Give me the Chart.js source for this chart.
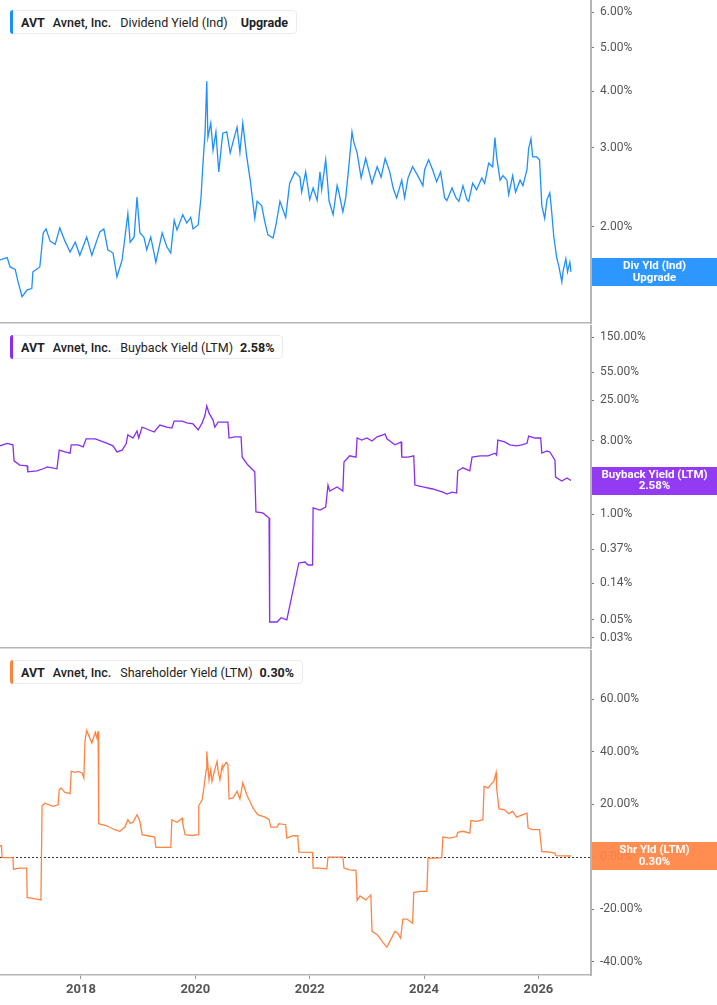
<!DOCTYPE html>
<html>
<head>
<meta charset="utf-8">
<script src="https://cdn.jsdelivr.net/npm/chart.js@4.4.1/dist/chart.umd.min.js"></script>
<style>
html, body { margin: 0; padding: 0; background: #fff; }
body { width: 717px; height: 1005px; position: relative; overflow: hidden; font-family: Roboto, "Noto Sans", sans-serif; }
.panel { position: absolute; left: 0; width: 717px; }
.panel canvas { position: absolute; left: 0; top: 0; }
.legend { position: absolute; left: 10px; top: 10px; height: 22px; border: 1px solid #ebebeb; border-radius: 4px; background: #fff;
  display: flex; align-items: center; padding: 0 8px 0 10px; font-size: 12.5px; color: #222; white-space: nowrap; z-index: 2; }
.legend .bar { position: absolute; left: -1px; top: -1px; bottom: -1px; width: 3px; border-radius: 3px 0 0 3px; }
.legend .t { font-weight: 700; margin-right: 8px; }
.legend .co { font-weight: 500; margin-right: 9px; }
.legend .s { font-weight: 400; margin-right: 7px; }
.legend .v { font-weight: 700; }
</style>
</head>
<body>

<div class="panel" style="top:0;height:324px">
  <canvas id="divChart" width="717" height="324"></canvas>
  <div class="legend"><span class="bar" style="background:#1e8fff"></span><span class="t">AVT</span><span class="co">Avnet, Inc.</span><span class="s" style="margin-right:13px">Dividend Yield (Ind)</span><span class="v">Upgrade</span></div>
</div>
<div class="panel" style="top:325px;height:324px">
  <canvas id="buybackChart" width="717" height="324"></canvas>
  <div class="legend"><span class="bar" style="background:#8a2cf2"></span><span class="t">AVT</span><span class="co">Avnet, Inc.</span><span class="s">Buyback Yield (LTM)</span><span class="v">2.58%</span></div>
</div>
<div class="panel" style="top:650px;height:355px">
  <canvas id="shrChart" width="717" height="355"></canvas>
  <div class="legend"><span class="bar" style="background:#ff8444"></span><span class="t">AVT</span><span class="co">Avnet, Inc.</span><span class="s">Shareholder Yield (LTM)</span><span class="v">0.30%</span></div>
</div>

<script>
// x values are decimal years
const divYears = [2016.58, 2016.71, 2016.76, 2016.85, 2016.90, 2016.97, 2017.06, 2017.14, 2017.16, 2017.28, 2017.34, 2017.39, 2017.46, 2017.55, 2017.63, 2017.72, 2017.81, 2017.90, 2017.98,
  2018.10, 2018.19, 2018.28, 2018.33, 2018.40, 2018.47, 2018.56, 2018.63, 2018.72, 2018.77, 2018.82, 2018.86, 2018.93, 2018.98,
  2019.03, 2019.10, 2019.15, 2019.22, 2019.31, 2019.42, 2019.50, 2019.57, 2019.63, 2019.68, 2019.78, 2019.85, 2019.92, 2019.96,
  2020.05, 2020.10, 2020.13, 2020.17, 2020.20, 2020.22, 2020.27, 2020.31, 2020.36, 2020.41, 2020.48, 2020.55, 2020.61, 2020.66, 2020.73, 2020.78, 2020.83, 2020.90, 2020.96,
  2021.04, 2021.08, 2021.16, 2021.22, 2021.27, 2021.36, 2021.41, 2021.48, 2021.58, 2021.65, 2021.74, 2021.83, 2021.86, 2021.93,
  2022.00, 2022.06, 2022.13, 2022.18, 2022.21, 2022.28, 2022.34, 2022.41, 2022.48, 2022.51, 2022.58, 2022.63, 2022.69, 2022.74, 2022.77, 2022.83, 2022.90, 2022.98,
  2023.04, 2023.09, 2023.18, 2023.25, 2023.32, 2023.40, 2023.46, 2023.52, 2023.61, 2023.66, 2023.72, 2023.80, 2023.89, 2023.98,
  2024.01, 2024.08, 2024.15, 2024.22, 2024.29, 2024.36, 2024.40, 2024.49, 2024.56, 2024.61, 2024.68, 2024.75, 2024.78, 2024.85, 2024.92,
  2025.01, 2025.06, 2025.13, 2025.20, 2025.24, 2025.27, 2025.33, 2025.38, 2025.45, 2025.48, 2025.55, 2025.60, 2025.68, 2025.73, 2025.80, 2025.83, 2025.87, 2025.90, 2025.97,
  2026.02, 2026.06, 2026.11, 2026.15, 2026.20, 2026.23, 2026.27, 2026.32, 2026.36, 2026.41, 2026.43, 2026.48, 2026.51, 2026.55, 2026.57];
const divValues = [1.69, 1.71, 1.63, 1.61, 1.51, 1.40, 1.45, 1.46, 1.59, 1.63, 1.94, 1.98, 1.86, 1.83, 1.99, 1.86, 1.76, 1.85, 1.73,
  1.90, 1.73, 1.87, 1.95, 1.98, 1.78, 1.75, 1.55, 1.69, 1.90, 2.14, 1.85, 1.90, 2.33,
  1.94, 1.90, 1.78, 1.90, 1.67, 1.94, 1.81, 1.75, 2.07, 1.97, 2.13, 2.04, 2.10, 1.98,
  2.02, 2.33, 2.72, 3.23, 4.21, 3.16, 3.40, 2.96, 3.25, 2.65, 3.23, 3.25, 2.92, 3.09, 3.33, 2.93, 3.40, 2.86, 2.54,
  2.09, 2.28, 2.23, 2.04, 1.92, 1.89, 2.02, 2.28, 2.10, 2.50, 2.65, 2.58, 2.39, 2.65,
  2.30, 2.44, 2.29, 2.65, 2.42, 2.82, 2.28, 2.13, 2.47, 2.39, 2.16, 2.32, 2.77, 3.25, 3.09, 2.92, 2.57, 2.84,
  2.65, 2.50, 2.72, 2.58, 2.84, 2.65, 2.44, 2.32, 2.54, 2.32, 2.57, 2.72, 2.60, 2.47,
  2.68, 2.82, 2.68, 2.52, 2.65, 2.32, 2.29, 2.44, 2.32, 2.28, 2.47, 2.30, 2.28, 2.50, 2.42,
  2.57, 2.50, 2.77, 2.72, 3.16, 2.86, 2.54, 2.60, 2.54, 2.36, 2.60, 2.39, 2.54, 2.47, 2.68, 2.99, 3.14, 2.86, 2.86,
  2.82, 2.23, 2.09, 2.30, 2.38, 2.18, 1.90, 1.71, 1.63, 1.51, 1.59, 1.70, 1.59, 1.67, 1.59];

const buybackYears = [2016.58, 2016.71, 2016.81, 2016.83, 2016.93, 2017.06, 2017.07, 2017.23, 2017.34, 2017.41, 2017.58, 2017.62, 2017.72, 2017.81, 2017.83, 2017.95,
  2018.04, 2018.09, 2018.25, 2018.46, 2018.56, 2018.63, 2018.72, 2018.79, 2018.82, 2018.91, 2018.98,
  2019.01, 2019.07, 2019.15, 2019.28, 2019.38, 2019.50, 2019.59, 2019.63, 2019.77, 2019.85, 2019.96,
  2020.05, 2020.12, 2020.17, 2020.20, 2020.24, 2020.31, 2020.34, 2020.40, 2020.47, 2020.57, 2020.59, 2020.69, 2020.80, 2020.82, 2020.92,
  2021.04, 2021.06, 2021.18, 2021.29, 2021.30, 2021.43, 2021.50, 2021.60, 2021.81, 2021.92, 2021.97,
  2022.05, 2022.06, 2022.18, 2022.28, 2022.32, 2022.35, 2022.48, 2022.58, 2022.60, 2022.70, 2022.81, 2022.83, 2022.91,
  2023.00, 2023.09, 2023.18, 2023.32, 2023.35, 2023.49, 2023.60, 2023.61, 2023.72, 2023.82, 2023.84, 2023.98,
  2024.15, 2024.33, 2024.40, 2024.49, 2024.57, 2024.59, 2024.68, 2024.80, 2024.84, 2024.98,
  2025.12, 2025.24, 2025.27, 2025.29, 2025.41, 2025.50, 2025.62, 2025.71, 2025.80, 2025.83, 2025.94,
  2026.04, 2026.06, 2026.15, 2026.20, 2026.29, 2026.30, 2026.41, 2026.50, 2026.57];
const buybackValues = [6.9, 7.4, 7.1, 4.5, 4.0, 3.9, 3.3, 3.4, 3.6, 3.8, 3.6, 6.1, 5.8, 5.6, 7.1, 7.1,
  6.7, 8.4, 8.4, 7.4, 6.9, 5.8, 6.1, 7.3, 9.4, 8.6, 10.5,
  8.6, 11.7, 11.1, 10.2, 12.4, 11.7, 11.4, 13.9, 13.9, 13.2, 12.8,
  10.8, 13.2, 16.5, 21.3, 17.4, 14.3, 11.7, 13.5, 13.5, 13.5, 8.6, 8.9, 8.9, 5.0, 4.0,
  3.3, 1.06, 1.03, 0.89, 0.047, 0.047, 0.053, 0.050, 0.25, 0.257, 0.236,
  0.236, 1.19, 1.12, 1.22, 2.27, 1.92, 2.15, 1.92, 4.35, 5.2, 5.0, 8.6, 8.1,
  8.6, 7.9, 8.9, 9.6, 8.4, 7.1, 7.7, 5.0, 5.0, 5.2, 2.27, 2.15,
  2.03, 1.86, 1.76, 1.86, 1.81, 3.4, 3.7, 3.4, 5.0, 5.2,
  5.2, 5.6, 5.3, 8.1, 7.7, 7.1, 6.9, 7.1, 7.4, 9.1, 8.6,
  8.6, 5.6, 5.95, 5.8, 4.6, 2.85, 2.55, 2.77, 2.58];

const shrYears = [2016.58, 2016.61, 2016.62, 2016.81, 2016.82, 2016.93, 2017.05, 2017.06, 2017.20, 2017.30, 2017.32, 2017.37, 2017.51, 2017.60, 2017.62, 2017.65, 2017.72, 2017.81, 2017.83, 2017.90, 2017.95,
  2018.02, 2018.05, 2018.07, 2018.10, 2018.19, 2018.25, 2018.28, 2018.30, 2018.31, 2018.45, 2018.59, 2018.68, 2018.77, 2018.82, 2018.86, 2018.91, 2018.98,
  2019.03, 2019.07, 2019.17, 2019.29, 2019.31, 2019.43, 2019.57, 2019.59, 2019.68, 2019.77, 2019.78, 2019.82, 2019.94,
  2020.05, 2020.06, 2020.12, 2020.15, 2020.19, 2020.20, 2020.24, 2020.27, 2020.29, 2020.34, 2020.38, 2020.40, 2020.43, 2020.47, 2020.48, 2020.54, 2020.57, 2020.59, 2020.66, 2020.73, 2020.78, 2020.83, 2020.90,
  2021.01, 2021.09, 2021.22, 2021.29, 2021.32, 2021.43, 2021.46, 2021.58, 2021.60, 2021.71, 2021.79, 2021.81,
  2022.05, 2022.06, 2022.18, 2022.30, 2022.32, 2022.58, 2022.60, 2022.70, 2022.81, 2022.83, 2022.88, 2022.98,
  2023.07, 2023.09, 2023.18, 2023.23, 2023.28, 2023.35, 2023.40, 2023.49, 2023.54, 2023.59, 2023.63, 2023.70, 2023.80, 2023.82, 2023.93,
  2024.05, 2024.07, 2024.22, 2024.31, 2024.33, 2024.45, 2024.57, 2024.59, 2024.68, 2024.80, 2024.82, 2024.92,
  2025.03, 2025.05, 2025.12, 2025.19, 2025.22, 2025.26, 2025.27, 2025.31, 2025.41, 2025.48, 2025.55, 2025.62, 2025.73, 2025.80, 2025.82, 2025.90,
  2026.02, 2026.06, 2026.20, 2026.29, 2026.30, 2026.57];
const shrValues = [4.2, 4.2, -0.3, -0.3, -4.7, -4.3, -4.3, -15.5, -16.0, -16.4, 19.4, 20.4, 19.2, 19.8, 25.5, 26.2, 24.5, 24.0, 32.5, 32.1, 32.5,
  31.9, 30.0, 43.9, 48.1, 43.3, 47.4, 45.2, 47.8, 12.6, 11.8, 10.3, 9.7, 11.3, 14.1, 12.8, 13.1, 16.0,
  13.5, 8.4, 8.0, 7.5, 3.6, 3.6, 3.6, 14.1, 13.1, 14.7, 12.8, 8.4, 8.1,
  8.4, 19.4, 21.7, 26.2, 33.1, 40.1, 29.3, 33.1, 28.7, 33.1, 36.3, 32.5, 29.3, 34.7, 33.8, 35.9, 35.1, 22.0, 22.4, 24.9, 22.0, 28.1, 23.6,
  18.5, 16.0, 15.1, 14.1, 11.3, 11.3, 12.6, 12.2, 7.1, 8.0, 8.0, 1.8,
  1.7, -4.3, -4.3, -4.7, -0.1, -0.1, -4.3, -5.0, -5.2, -16.6, -14.9, -16.4,
  -14.5, -28.4, -29.7, -31.0, -32.6, -34.4, -32.3, -28.4, -29.1, -31.0, -23.7, -23.7, -25.3, -13.6, -13.2,
  -13.2, -0.5, -0.5, -0.3, 7.5, 7.1, 7.7, 9.3, 9.7, 9.0, 13.8, 13.5,
  14.1, 26.8, 26.2, 28.1, 28.7, 32.1, 26.2, 18.2, 17.9, 16.4, 17.3, 15.1, 16.0, 16.6, 10.9, 10.3,
  10.3, 2.0, 1.8, 1.4, 0.4, 0.3];

const yearTicks = [2018, 2020, 2022, 2024, 2026];
const divTicks = [2, 3, 4, 5, 6];
const buybackTicks = [0.03, 0.05, 0.14, 0.37, 1, 8, 25, 55, 150];
const shrTicks = [-40, -20, 0, 20, 40, 60];

const AXIS_GRAY = '#b5b5b5';

const tagPlugin = {
  id: 'lastTag',
  afterDraw(chart, args, opts) {
    if (!opts.lines) return;
    const {ctx, chartArea, scales} = chart;
    const pts = chart.data.datasets[0].data;
    const y = scales.y.getPixelForValue(pts[pts.length - 1].y);
    const x0 = chartArea.right + 1;
    const w = chart.width - x0;
    ctx.save();
    ctx.globalAlpha = 0.93;
    ctx.fillStyle = opts.color;
    ctx.fillRect(x0, Math.round(y - 14), w, 28);
    ctx.globalAlpha = 1;
    ctx.fillStyle = '#fff';
    ctx.font = 'bold 11.5px Roboto, "Noto Sans", sans-serif';
    ctx.textAlign = 'center';
    ctx.textBaseline = 'middle';
    ctx.fillText(opts.lines[0], x0 + w / 2, y - 5.5);
    ctx.fillText(opts.lines[1], x0 + w / 2, y + 6);
    ctx.restore();
  }
};

const zeroPlugin = {
  id: 'zeroLine',
  beforeDatasetsDraw(chart, args, opts) {
    if (!opts.show) return;
    const {ctx, chartArea, scales} = chart;
    const y = Math.round(scales.y.getPixelForValue(0)) + 0.5;
    ctx.save();
    ctx.strokeStyle = '#333';
    ctx.lineWidth = 1;
    ctx.setLineDash([2, 2]);
    ctx.beginPath();
    ctx.moveTo(chartArea.left, y);
    ctx.lineTo(chartArea.right, y);
    ctx.stroke();
    ctx.restore();
  }
};

function makeChart(id, years, values, color, yOpts, tagLines, showXLabels, zero) {
  return new Chart(document.getElementById(id), {
    type: 'line',
    data: {
      datasets: [{
        data: years.map((x, i) => ({x: x, y: values[i]})),
        borderColor: color,
        borderWidth: 1.3,
        pointRadius: 0,
        tension: 0,
        fill: false
      }]
    },
    options: {
      responsive: false,
      animation: false,
      events: [],
      layout: {padding: {top: 0, left: 0, right: 0, bottom: showXLabels ? 0 : 1}},
      plugins: {
        legend: {display: false},
        tooltip: {enabled: false},
        lastTag: {lines: tagLines, color: color},
        zeroLine: {show: zero}
      },
      scales: {
        x: {
          type: 'linear',
          min: 2016.584,
          max: 2026.92,
          afterBuildTicks: s => { s.ticks = yearTicks.map(v => ({value: v})); },
          afterFit: s => {
            s.height = showXLabels ? 30 : 0;
            s.paddingLeft = 0; s.paddingRight = 0;
          },
          grid: {display: showXLabels, drawOnChartArea: false, tickLength: 4, color: '#999'},
          border: {display: true, color: AXIS_GRAY, width: 1.5},
          ticks: {
            display: showXLabels,
            padding: 3,
            color: '#555',
            font: {family: 'Roboto', size: 13, weight: 'bold'},
            callback: v => String(v)
          }
        },
        y: Object.assign({
          position: 'right',
          afterFit: s => {
            s.width = 126;
            s.paddingTop = 0; s.paddingBottom = 0;
          },
          grid: {display: true, drawOnChartArea: false, tickLength: 3, color: '#777', lineWidth: 1},
          border: {display: true, color: AXIS_GRAY, width: 2},
          ticks: {
            autoSkip: false,
            padding: 6,
            color: '#555',
            font: {family: 'Roboto', size: 12},
            callback: v => Number(v).toFixed(2) + '%'
          }
        }, yOpts)
      }
    },
    plugins: [tagPlugin, zeroPlugin]
  });
}

makeChart('divChart', divYears, divValues, '#1e8fff', {
  type: 'logarithmic', min: 1.224, max: 6.38,
  afterBuildTicks: s => { s.ticks = divTicks.map(v => ({value: v})); }
}, ['Div Yld (Ind)', 'Upgrade'], false, false);

makeChart('buybackChart', buybackYears, buybackValues, '#8a2cf2', {
  type: 'logarithmic', min: 0.0225, max: 211,
  afterBuildTicks: s => { s.ticks = buybackTicks.map(v => ({value: v})); }
}, ['Buyback Yield (LTM)', '2.58%'], false, false);

makeChart('shrChart', shrYears, shrValues, '#ff8444', {
  type: 'linear', min: -45, max: 78.7,
  afterBuildTicks: s => { s.ticks = shrTicks.map(v => ({value: v})); }
}, ['Shr Yld (LTM)', '0.30%'], true, true);
</script>
</body>
</html>
